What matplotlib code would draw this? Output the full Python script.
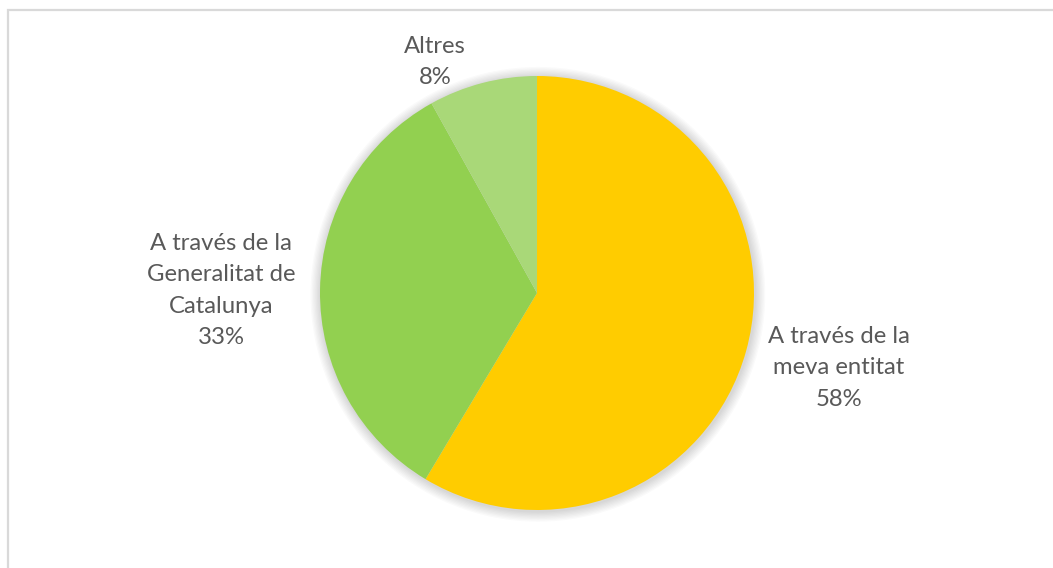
import matplotlib
matplotlib.use("Agg")
import matplotlib.pyplot as plt
from matplotlib.patches import Circle, Rectangle

categories = ["A través de la\nmeva entitat", "A través de la\nGeneralitat de\nCatalunya", "Altres"]
values = [58, 33, 8]
pct_labels = ["58%", "33%", "8%"]
colors = ["#FFCC00", "#92D050", "#A9D878"]
label_pos = [(1.39, -0.345), (-1.456, 0.012), (-0.47, 1.065)]

W, H = 1053, 568
fig = plt.figure(figsize=(W / 100, H / 100), dpi=100)
fig.patch.set_facecolor("white")

# chart frame (extends past right/bottom edges)
fig.add_artist(Rectangle((7.5 / W, -0.1), 1.2, 1 - 10.5 / H + 0.1, transform=fig.transFigure,
                         fill=False, edgecolor="#D9D9D9", linewidth=1.6))

cx, cy, r = 537, 293, 217
ax = fig.add_axes([(cx - r) / W, (H - cy - r) / H, 2 * r / W, 2 * r / H])
ax.set_xlim(-1, 1)
ax.set_ylim(-1, 1)
ax.set_aspect("equal")
ax.axis("off")

# soft shadow
for i in range(8):
    ax.add_patch(Circle((0.004, -0.006), 1.0 + 0.006 * (i + 1), facecolor="#000000",
                        alpha=0.018, edgecolor="none", zorder=0, clip_on=False))

wedges, _ = ax.pie(values, colors=colors, startangle=90, counterclock=False, radius=1.0,
                   wedgeprops=dict(linewidth=0, edgecolor="none"))
for w in wedges:
    w.set_zorder(2)
ax.set_xlim(-1, 1)
ax.set_ylim(-1, 1)

for cat, pct, (x, y) in zip(categories, pct_labels, label_pos):
    ax.text(x, y, f"{cat}\n{pct}", ha="center", va="center", multialignment="center",
            fontsize=17.2, family=["Lato", "DejaVu Sans"], color="#595959",
            linespacing=1.62, clip_on=False)

fig.savefig("out.png", dpi=100, facecolor="white")
